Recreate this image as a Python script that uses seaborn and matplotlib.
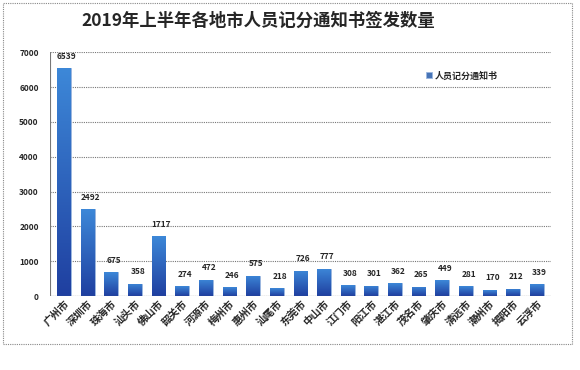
import numpy as np
import pandas as pd
import matplotlib
matplotlib.use("Agg")
import matplotlib.pyplot as plt
import seaborn as sns
from matplotlib.patches import Rectangle
from matplotlib.colors import LinearSegmentedColormap

cities = ["广州市", "深圳市", "珠海市", "汕头市", "佛山市", "韶关市", "河源市",
          "梅州市", "惠州市", "汕尾市", "东莞市", "中山市", "江门市", "阳江市",
          "湛江市", "茂名市", "肇庆市", "清远市", "潮州市", "揭阳市", "云浮市"]
counts = [6539, 2492, 675, 358, 1717, 274, 472, 246, 575, 218, 726, 777,
          308, 301, 362, 265, 449, 281, 170, 212, 339]
series_name = "人员记分通知书"
title = "2019年上半年各地市人员记分通知书签发数量"

sns.set_theme(style="white")
plt.rcParams['font.family'] = ['Noto Sans CJK SC', 'DejaVu Sans']

df = pd.DataFrame({"city": cities, "count": counts})

fig = plt.figure(figsize=(5.8, 3.7), dpi=100)
ax = fig.add_axes([0.086, 0.2, 0.864, 0.659])

sns.barplot(data=df, x="city", y="count", color="#3570c8", width=0.58,
            ax=ax, label=series_name)

# vertical gradient inside each bar, darker at the bottom
cmap = LinearSegmentedColormap.from_list("bl", ["#1f3fa0", "#3d88d8"])
grad = np.linspace(0, 1, 256).reshape(-1, 1)
for bar in ax.patches:
    x0, y0 = bar.get_x(), bar.get_y()
    w, h = bar.get_width(), bar.get_height()
    im = ax.imshow(grad, extent=[x0, x0 + w, y0, y0 + h], origin="lower",
                   aspect="auto", cmap=cmap, zorder=bar.get_zorder() + 0.1)
    im.set_clip_path(bar)
    bar.set_edgecolor("#9bb7e0")
    bar.set_linewidth(0.6)

ax.set_xlim(-0.6, len(cities) - 0.4)
ax.set_ylim(0, 7000)
ax.set_yticks(range(0, 7001, 1000))
ax.yaxis.grid(True, linestyle=(0, (1, 1)), color="#777777", linewidth=0.8)
ax.set_axisbelow(True)
for side in ["left", "right", "bottom", "top"]:
    ax.spines[side].set_visible(False)
ax.axhline(0, color="#777777", linewidth=0.8)
ax.axvline(-0.6, color="#777777", linewidth=0.8)

ax.set_xlabel("")
ax.set_ylabel("")
ax.tick_params(axis="y", labelsize=6, pad=8, length=0)
ax.tick_params(axis="x", labelsize=7.5, length=0, pad=2)
for lbl in ax.get_yticklabels():
    lbl.set_fontweight("bold")
plt.setp(ax.get_xticklabels(), rotation=45, ha="right", rotation_mode="anchor",
         fontweight="bold")

for i, v in enumerate(counts):
    ax.text(i + 0.12, v + 220, str(v), ha="center", va="bottom", fontsize=6,
            fontweight="bold")

leg = ax.legend(loc="upper left", bbox_to_anchor=(0.735, 0.955), frameon=False,
                fontsize=6.5, handlelength=0.6, handleheight=0.6,
                handletextpad=0.3)
for t in leg.get_texts():
    t.set_fontweight("bold")

fig.text(0.445, 0.945, title, ha="center", va="center", fontsize=12.5,
         fontweight="black")

fig.patches.append(Rectangle((3 / 580, 1 - 344 / 370), 569 / 580, 341 / 370,
                             transform=fig.transFigure, fill=False,
                             edgecolor="#888888", linestyle=(0, (1, 1)),
                             linewidth=0.8))

fig.savefig("out.png", dpi=100)
